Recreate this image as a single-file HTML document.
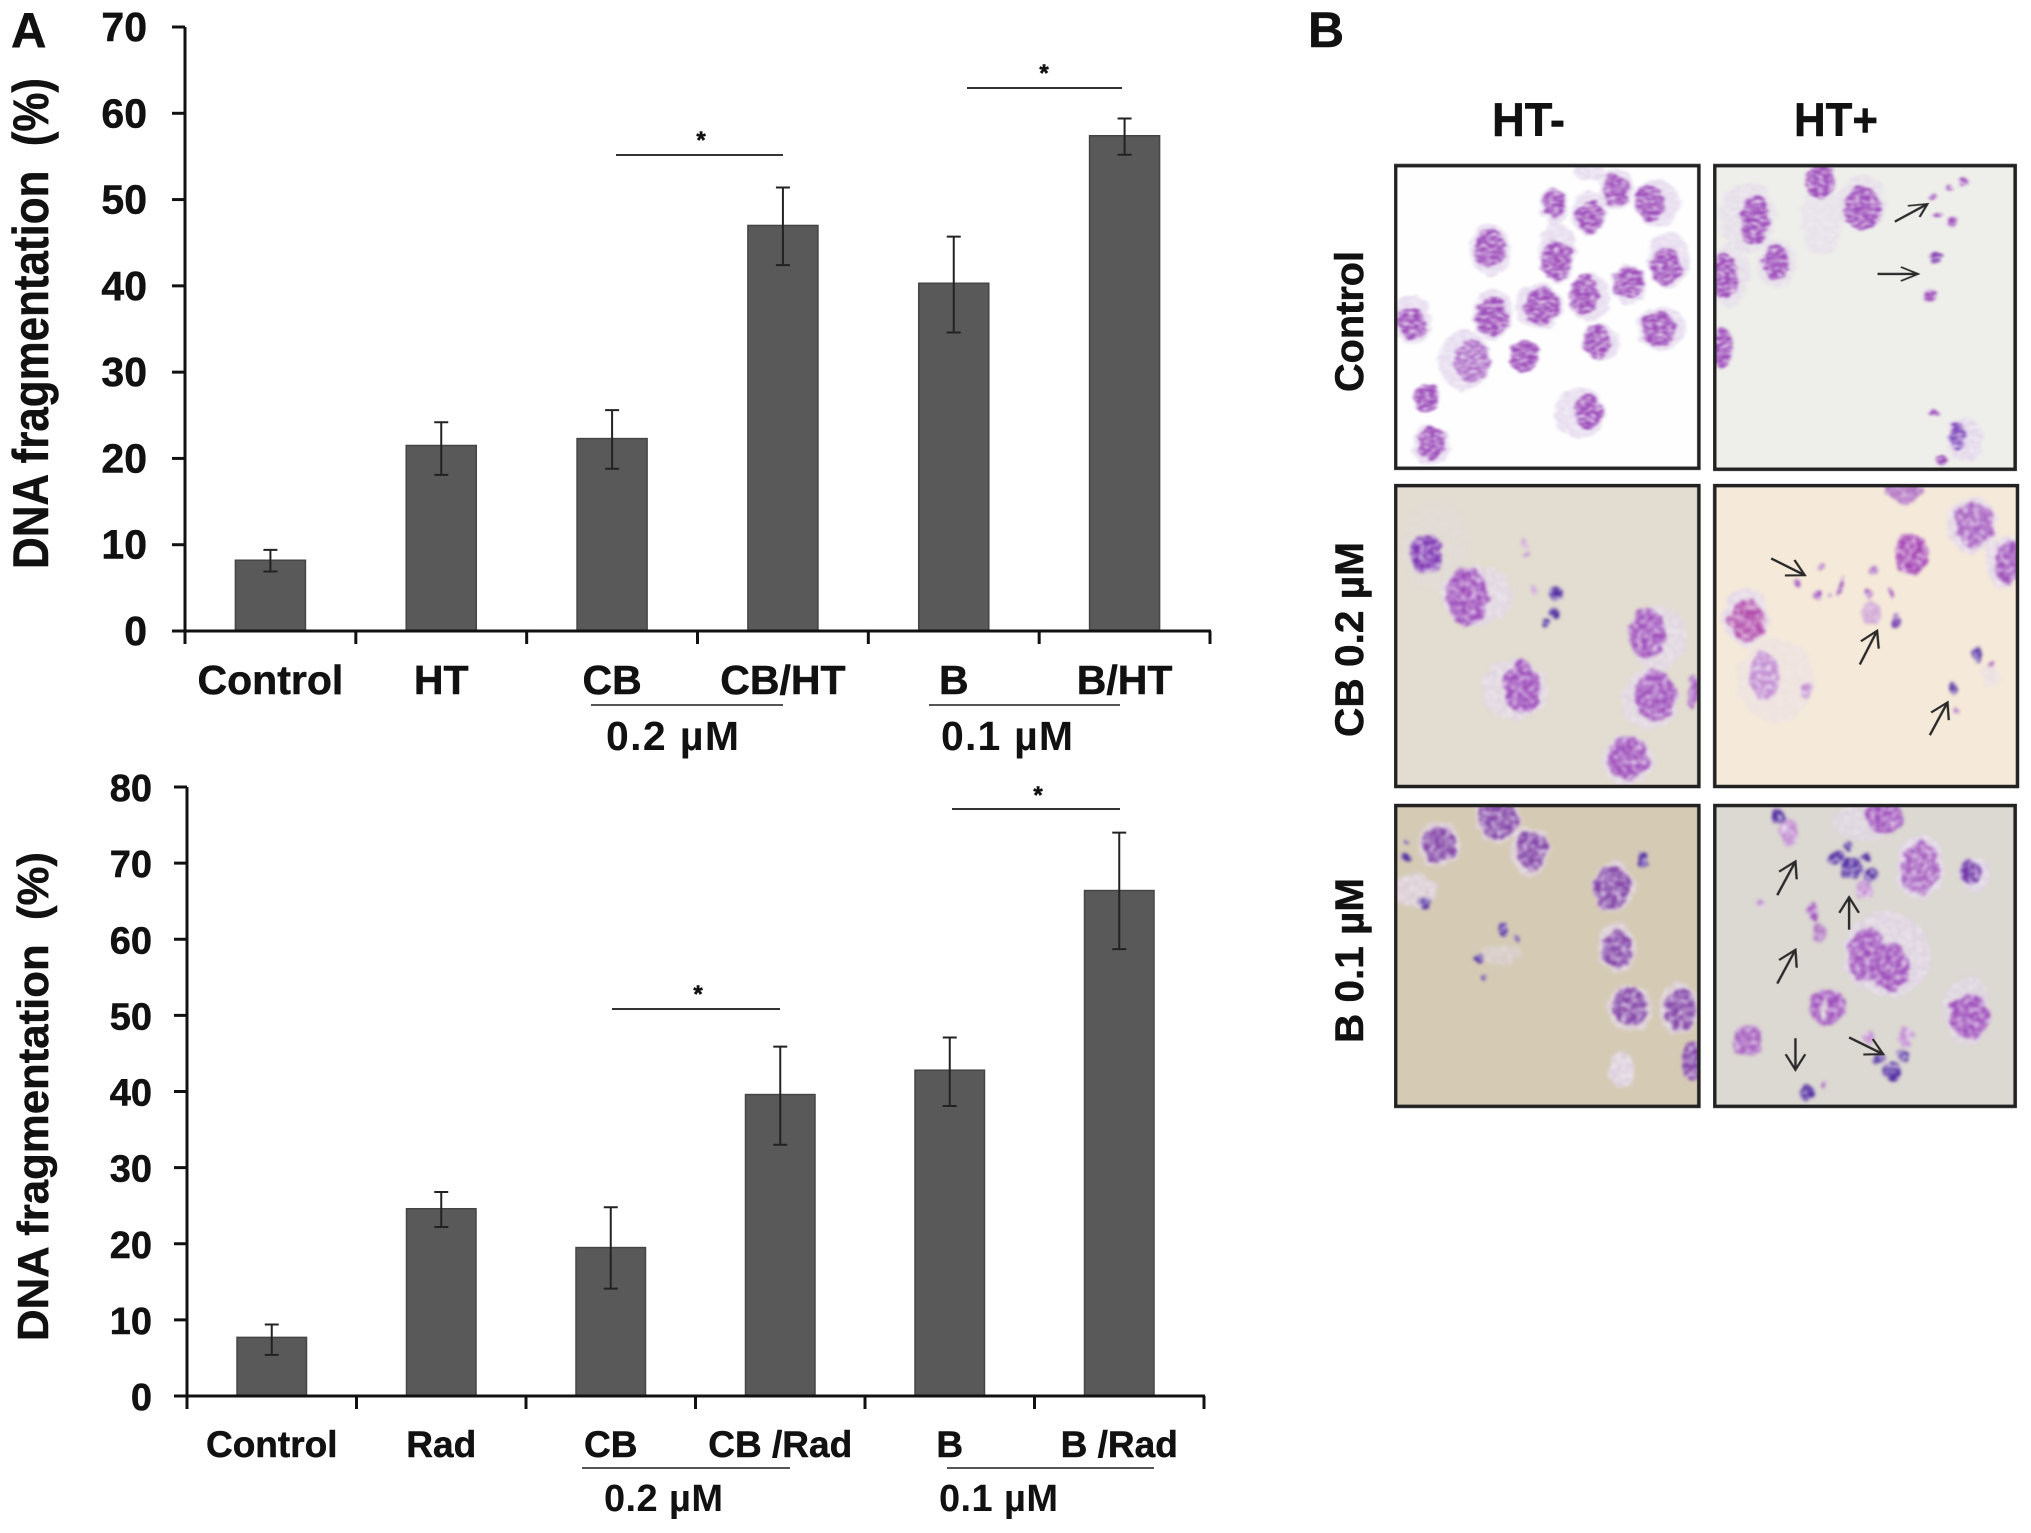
<!DOCTYPE html>
<html>
<head>
<meta charset="utf-8">
<title>DNA fragmentation figure</title>
<style>
html,body{margin:0;padding:0;background:#fff;}
svg{display:block;font-family:"Liberation Sans",sans-serif;}
text{font-weight:bold;fill:#111;stroke:#111;stroke-width:.5;}
.c{fill:#ddcfe8;opacity:.75}
.n{fill:#9a48b8}
.d{fill:#4b259c}
.p{fill:#c08ad0}
.v{fill:#7f3fa4}
.brd{fill:none;stroke:#222;stroke-width:3.5;vector-effect:non-scaling-stroke}
.arr{fill:none;stroke:#2a2a2a;stroke-width:2.4;vector-effect:non-scaling-stroke;marker-end:url(#ah)}
.sig{stroke:#333;stroke-width:2}
.und{stroke:#555;stroke-width:2}
</style>
</head>
<body>
<svg id="fig" xmlns="http://www.w3.org/2000/svg" width="2031" height="1533" viewBox="0 0 2031 1533">
<defs>
<filter id="b1" x="-5%" y="-5%" width="110%" height="110%" color-interpolation-filters="sRGB">
<feTurbulence type="fractalNoise" baseFrequency=".035" numOctaves="2" seed="3" result="t"/>
<feDisplacementMap in="SourceGraphic" in2="t" scale="22" xChannelSelector="R" yChannelSelector="G" result="dm"/>
<feTurbulence type="fractalNoise" baseFrequency=".09" numOctaves="2" seed="8" result="t2"/>
<feColorMatrix in="t2" type="matrix" values="0 0 0 0 1  0 0 0 0 1  0 0 0 0 1  1.8 0 0 0 -.65" result="sp"/>
<feComposite in="sp" in2="dm" operator="in" result="spc"/>
<feMerge result="mm"><feMergeNode in="dm"/><feMergeNode in="spc"/></feMerge>
<feGaussianBlur in="mm" stdDeviation="3.5"/>
</filter>
<marker id="ah" markerUnits="userSpaceOnUse" markerWidth="50" markerHeight="50" viewBox="0 0 50 50" refX="45" refY="25" orient="auto"><path d="M8 4 L45 25 L8 46" fill="none" stroke="#2a2a2a" stroke-width="5"/></marker>
<clipPath id="cp1"><rect x="205" y="497" width="650" height="908"/></clipPath>
<clipPath id="cp2"><rect x="889" y="497" width="644" height="911"/></clipPath>
<clipPath id="cp3"><rect x="205" y="37" width="650" height="715"/></clipPath>
<clipPath id="cp4"><rect x="889" y="37" width="649" height="715"/></clipPath>
<clipPath id="cp5"><rect x="205" y="797" width="650" height="715"/></clipPath>
<clipPath id="cp6"><rect x="889" y="797" width="644" height="715"/></clipPath>
</defs>

<text x="11" y="47" font-size="49">A</text>
<text x="1308" y="47" font-size="50">B</text>

<g id="chart-top"></g>
<g id="chart-bottom"></g>

<text transform="translate(48,569) rotate(-90)" font-size="50" textLength="491" lengthAdjust="spacingAndGlyphs" style="white-space:pre">DNA fragmentation  (%)</text>
<text transform="translate(48,1341) rotate(-90)" font-size="44" textLength="489" lengthAdjust="spacingAndGlyphs" style="white-space:pre">DNA fragmentation  (%)</text>

<line class="sig" x1="616" y1="155" x2="783" y2="155"/>
<text x="701" y="148" font-size="24" text-anchor="middle">*</text>
<line class="sig" x1="967" y1="88" x2="1122" y2="88"/>
<text x="1044" y="81" font-size="24" text-anchor="middle">*</text>
<line class="und" x1="591" y1="705" x2="783" y2="705"/>
<line class="und" x1="929" y1="705" x2="1120" y2="705"/>
<text x="606" y="750" font-size="41" textLength="133" lengthAdjust="spacing" style="stroke-width:0;font-weight:bold">0.2 µM</text>
<text x="941" y="750" font-size="41" textLength="132" lengthAdjust="spacing" style="stroke-width:0;font-weight:bold">0.1 µM</text>

<line class="sig" x1="612" y1="1009" x2="780" y2="1009"/>
<text x="698" y="1002" font-size="24" text-anchor="middle">*</text>
<line class="sig" x1="952" y1="809" x2="1120" y2="809"/>
<text x="1038" y="803" font-size="24" text-anchor="middle">*</text>
<line class="und" x1="582" y1="1468" x2="790" y2="1468"/>
<line class="und" x1="947" y1="1468" x2="1154" y2="1468"/>
<text x="604" y="1511" font-size="38" textLength="119" lengthAdjust="spacing" style="stroke-width:0;font-weight:bold">0.2 µM</text>
<text x="939" y="1511" font-size="38" textLength="119" lengthAdjust="spacing" style="stroke-width:0;font-weight:bold">0.1 µM</text>

<text x="1492" y="136" font-size="47" textLength="73" lengthAdjust="spacingAndGlyphs">HT-</text>
<text x="1794" y="136" font-size="47" textLength="84" lengthAdjust="spacingAndGlyphs">HT+</text>
<text transform="translate(1363,392) rotate(-90)" font-size="40" textLength="141" lengthAdjust="spacingAndGlyphs">Control</text>
<text transform="translate(1363,737) rotate(-90)" font-size="40" textLength="195" lengthAdjust="spacingAndGlyphs">CB 0.2 µM</text>
<text transform="translate(1363,1043) rotate(-90)" font-size="40" textLength="165" lengthAdjust="spacingAndGlyphs">B 0.1 µM</text>

<g transform="translate(1300,0) scale(.4665,.3333)">
<g>
<rect x="205" y="497" width="650" height="908" fill="#fefefe"/>
<g clip-path="url(#cp1)"><g filter="url(#b1)">
<ellipse class="c" cx="620" cy="515" rx="35" ry="25"/>
<ellipse class="c" cx="677" cy="568" rx="38" ry="60"/><ellipse class="n" cx="677" cy="568" rx="28" ry="46"/>
<ellipse class="c" cx="765" cy="610" rx="48" ry="72"/><ellipse class="n" cx="750" cy="610" rx="30" ry="56"/>
<ellipse class="c" cx="545" cy="617" rx="30" ry="55"/><ellipse class="n" cx="545" cy="612" rx="23" ry="44"/>
<ellipse class="c" cx="620" cy="640" rx="36" ry="65"/><ellipse class="n" cx="622" cy="650" rx="28" ry="50"/>
<ellipse class="c" cx="407" cy="750" rx="42" ry="78"/><ellipse class="n" cx="407" cy="745" rx="32" ry="58"/>
<ellipse class="c" cx="552" cy="760" rx="40" ry="90"/><ellipse class="n" cx="550" cy="780" rx="35" ry="62"/>
<ellipse class="c" cx="790" cy="780" rx="44" ry="85"/><ellipse class="n" cx="785" cy="800" rx="32" ry="55"/>
<ellipse class="c" cx="620" cy="890" rx="44" ry="72"/><ellipse class="n" cx="610" cy="885" rx="30" ry="62"/>
<ellipse class="c" cx="705" cy="855" rx="36" ry="60"/><ellipse class="n" cx="705" cy="850" rx="31" ry="48"/>
<ellipse class="c" cx="512" cy="920" rx="50" ry="70"/><ellipse class="n" cx="518" cy="920" rx="36" ry="58"/>
<ellipse class="c" cx="413" cy="940" rx="42" ry="78"/><ellipse class="n" cx="413" cy="950" rx="36" ry="58"/>
<ellipse class="c" cx="240" cy="960" rx="40" ry="75"/><ellipse class="n" cx="240" cy="970" rx="30" ry="48"/>
<ellipse class="c" cx="645" cy="1025" rx="40" ry="55"/><ellipse class="n" cx="637" cy="1025" rx="27" ry="50"/>
<ellipse class="c" cx="775" cy="985" rx="52" ry="65"/><ellipse class="n" cx="768" cy="985" rx="36" ry="55"/>
<ellipse class="n" cx="480" cy="1068" rx="30" ry="50"/>
<ellipse class="c" cx="352" cy="1080" rx="55" ry="92"/><ellipse class="n" cx="368" cy="1085" rx="38" ry="62" style="opacity:.75"/>
<ellipse class="n" cx="270" cy="1195" rx="28" ry="42"/>
<ellipse class="c" cx="600" cy="1238" rx="52" ry="78"/><ellipse class="n" cx="618" cy="1235" rx="28" ry="52"/>
<ellipse class="c" cx="280" cy="1335" rx="42" ry="62"/><ellipse class="n" cx="282" cy="1328" rx="30" ry="52"/>
</g></g>
<rect class="brd" x="205" y="497" width="650" height="908"/>
</g>
<g>
<rect x="889" y="497" width="644" height="911" fill="#eeeeea"/>
<g clip-path="url(#cp2)"><g filter="url(#b1)">
<ellipse class="c" cx="1120" cy="660" rx="45" ry="105" style="opacity:.4"/>
<ellipse class="c" cx="960" cy="650" rx="60" ry="105" style="opacity:.5"/><ellipse class="n" cx="975" cy="660" rx="30" ry="75"/>
<ellipse class="n" cx="1115" cy="545" rx="32" ry="52"/>
<ellipse class="c" cx="1205" cy="610" rx="48" ry="85" style="opacity:.5"/><ellipse class="n" cx="1205" cy="625" rx="38" ry="68"/>
<ellipse class="c" cx="1022" cy="790" rx="40" ry="72" style="opacity:.5"/><ellipse class="n" cx="1020" cy="785" rx="28" ry="55"/>
<ellipse class="c" cx="920" cy="825" rx="42" ry="95" style="opacity:.5"/><ellipse class="n" cx="908" cy="825" rx="32" ry="68"/>
<ellipse class="n" cx="902" cy="1045" rx="24" ry="60"/>
<ellipse class="c" cx="1425" cy="1320" rx="38" ry="68"/><ellipse class="n" cx="1408" cy="1310" rx="18" ry="38" style="fill:#7a42b8"/>
<ellipse class="n" cx="1423" cy="543" rx="8" ry="11"/><ellipse class="n" cx="1390" cy="565" rx="10" ry="9"/>
<ellipse class="n" cx="1357" cy="590" rx="5" ry="12"/><ellipse class="n" cx="1367" cy="645" rx="7" ry="10"/>
<ellipse class="n" cx="1400" cy="665" rx="9" ry="16"/><ellipse class="n" cx="1362" cy="772" rx="13" ry="17" style="fill:#7a35ac"/>
<ellipse class="n" cx="1348" cy="890" rx="13" ry="18"/><ellipse class="n" cx="1360" cy="1240" rx="6" ry="9"/>
<ellipse class="n" cx="1375" cy="1380" rx="10" ry="16"/>
</g></g>
<path class="arr" d="M1275 665 L1345 612"/>
<path class="arr" d="M1238 822 L1325 822"/>
<rect class="brd" x="889" y="497" width="644" height="911"/>
</g>
</g>

<g transform="translate(1300,470) scale(.4665,.4209)">
<g>
<rect x="205" y="37" width="650" height="715" fill="#e2ddd0"/>
<g clip-path="url(#cp3)"><g filter="url(#b1)">
<ellipse class="c" cx="290" cy="180" rx="75" ry="110" style="opacity:.15"/>
<ellipse class="n" cx="272" cy="200" rx="34" ry="48" style="fill:#7a30b0"/>
<ellipse class="c" cx="380" cy="300" rx="78" ry="72" style="opacity:.6"/><ellipse class="n" cx="358" cy="300" rx="45" ry="68"/>
<ellipse class="c" cx="770" cy="400" rx="60" ry="75" style="opacity:.6"/><ellipse class="n" cx="745" cy="390" rx="40" ry="60"/>
<ellipse class="c" cx="460" cy="520" rx="72" ry="72" style="opacity:.6"/><ellipse class="n" cx="477" cy="515" rx="38" ry="62"/>
<ellipse class="c" cx="750" cy="545" rx="62" ry="75" style="opacity:.6"/><ellipse class="n" cx="762" cy="535" rx="45" ry="58"/>
<ellipse class="c" cx="703" cy="690" rx="55" ry="62" style="opacity:.6"/><ellipse class="n" cx="703" cy="685" rx="44" ry="52"/>
<ellipse class="n" cx="845" cy="525" rx="13" ry="40"/>
<ellipse class="d" cx="550" cy="292" rx="15" ry="18"/><ellipse class="d" cx="543" cy="340" rx="9" ry="10"/>
<ellipse class="d" cx="527" cy="365" rx="9" ry="10"/><ellipse class="p" cx="480" cy="175" rx="6" ry="9"/>
<ellipse class="p" cx="487" cy="200" rx="5" ry="8"/><ellipse class="p" cx="503" cy="287" rx="7" ry="11"/>
</g></g>
<rect class="brd" x="205" y="37" width="650" height="715"/>
</g>
<g>
<rect x="889" y="37" width="649" height="715" fill="#f5ead9"/>
<g clip-path="url(#cp4)"><g filter="url(#b1)">
<ellipse class="n" cx="1295" cy="50" rx="40" ry="28" style="opacity:.75"/>
<ellipse class="c" cx="1440" cy="130" rx="52" ry="68"/><ellipse class="n" cx="1445" cy="130" rx="42" ry="52" style="opacity:.85"/>
<ellipse class="n" cx="1310" cy="200" rx="36" ry="50" style="fill:#a03cb0"/>
<ellipse class="c" cx="1510" cy="220" rx="42" ry="62"/><ellipse class="n" cx="1518" cy="222" rx="28" ry="52"/>
<ellipse class="c" cx="955" cy="350" rx="48" ry="70"/><ellipse class="n" cx="958" cy="358" rx="40" ry="48" style="fill:#ae45a8"/>
<ellipse class="c" cx="1020" cy="500" rx="85" ry="100" style="opacity:.3"/><ellipse class="p" cx="995" cy="490" rx="32" ry="58"/>
<ellipse class="p" cx="1085" cy="525" rx="13" ry="20"/>
<ellipse class="p" cx="1225" cy="340" rx="22" ry="28" style="opacity:.7"/>
<ellipse class="n" cx="1275" cy="358" rx="12" ry="17" style="fill:#6f35ac"/>
<ellipse class="d" cx="1452" cy="440" rx="12" ry="20"/><ellipse class="d" cx="1398" cy="518" rx="10" ry="12"/>
<ellipse class="n" cx="1410" cy="570" rx="7" ry="9"/><ellipse class="n" cx="1118" cy="232" rx="6" ry="8"/>
<ellipse class="n" cx="1232" cy="238" rx="8" ry="10"/><ellipse class="n" cx="1113" cy="298" rx="8" ry="12"/>
<ellipse class="n" cx="1160" cy="275" rx="5" ry="22"/><ellipse class="n" cx="1220" cy="295" rx="5" ry="10"/>
<ellipse class="n" cx="1265" cy="295" rx="5" ry="12"/><ellipse class="n" cx="1065" cy="268" rx="6" ry="8"/>
<ellipse class="n" cx="1140" cy="298" rx="4" ry="6"/><ellipse class="n" cx="1483" cy="462" rx="6" ry="8"/>
<ellipse class="c" cx="1480" cy="490" rx="20" ry="22" style="opacity:.4"/>
</g></g>
<path class="arr" d="M1010 210 L1082 250"/>
<path class="arr" d="M1200 462 L1237 382"/>
<path class="arr" d="M1350 630 L1388 552"/>
<rect class="brd" x="889" y="37" width="649" height="715"/>
</g>
<g>
<rect x="205" y="797" width="650" height="715" fill="#d5cbb5"/>
<g clip-path="url(#cp5)"><g filter="url(#b1)">
<ellipse class="c" cx="298" cy="890" rx="46" ry="52" style="opacity:.6"/><ellipse class="v" cx="298" cy="890" rx="38" ry="42"/>
<ellipse class="c" cx="425" cy="830" rx="50" ry="56" style="opacity:.6"/><ellipse class="v" cx="425" cy="828" rx="44" ry="48"/>
<ellipse class="c" cx="493" cy="905" rx="42" ry="56" style="opacity:.6"/><ellipse class="v" cx="497" cy="902" rx="32" ry="46"/>
<ellipse class="c" cx="672" cy="990" rx="46" ry="60" style="opacity:.6"/><ellipse class="v" cx="668" cy="992" rx="40" ry="52"/>
<ellipse class="c" cx="680" cy="1135" rx="40" ry="62" style="opacity:.6"/><ellipse class="v" cx="680" cy="1140" rx="32" ry="45"/>
<ellipse class="c" cx="708" cy="1278" rx="48" ry="55" style="opacity:.6"/><ellipse class="v" cx="708" cy="1275" rx="36" ry="46"/>
<ellipse class="c" cx="812" cy="1280" rx="42" ry="60" style="opacity:.6"/><ellipse class="v" cx="815" cy="1282" rx="33" ry="50"/>
<ellipse class="v" cx="842" cy="1405" rx="24" ry="45"/>
<ellipse class="c" cx="688" cy="1425" rx="28" ry="42"/>
<ellipse class="c" cx="245" cy="1000" rx="50" ry="40" style="opacity:.6"/>
<ellipse class="d" cx="435" cy="1093" rx="13" ry="18"/><ellipse class="d" cx="385" cy="1162" rx="10" ry="10"/>
<ellipse class="d" cx="395" cy="1205" rx="6" ry="8"/><ellipse class="d" cx="465" cy="1112" rx="5" ry="7"/>
<ellipse class="d" cx="735" cy="925" rx="13" ry="20"/><ellipse class="d" cx="268" cy="1025" rx="13" ry="13"/>
<ellipse class="d" cx="228" cy="920" rx="8" ry="8"/><ellipse class="d" cx="228" cy="885" rx="5" ry="5"/>
<ellipse class="c" cx="430" cy="1150" rx="45" ry="25" style="opacity:.35"/>
</g></g>
<rect class="brd" x="205" y="797" width="650" height="715"/>
</g>
<g>
<rect x="889" y="797" width="644" height="715" fill="#dcd8d2"/>
<g clip-path="url(#cp6)"><g filter="url(#b1)">
<ellipse class="c" cx="1210" cy="835" rx="70" ry="45" style="opacity:.5"/><ellipse class="n" cx="1252" cy="825" rx="42" ry="38"/>
<ellipse class="c" cx="1330" cy="945" rx="52" ry="72"/><ellipse class="n" cx="1330" cy="945" rx="42" ry="60" style="opacity:.85"/>
<ellipse class="c" cx="1448" cy="962" rx="34" ry="40"/><ellipse class="d" cx="1440" cy="955" rx="22" ry="26" style="fill:#6b2fa4"/>
<ellipse class="c" cx="1258" cy="1150" rx="95" ry="100" style="opacity:.6"/><ellipse class="n" cx="1215" cy="1150" rx="40" ry="65"/><ellipse class="n" cx="1265" cy="1180" rx="42" ry="55"/>
<ellipse class="c" cx="1430" cy="1285" rx="50" ry="82" style="opacity:.5"/><ellipse class="n" cx="1435" cy="1298" rx="44" ry="52"/>
<ellipse class="n" cx="958" cy="1355" rx="32" ry="38" style="opacity:.85"/>
<ellipse class="n" cx="1130" cy="1275" rx="38" ry="44"/><ellipse cx="1125" cy="1280" rx="6" ry="24" fill="#dcd8d2"/>
<ellipse class="d" cx="1025" cy="822" rx="14" ry="18"/><ellipse class="p" cx="1048" cy="860" rx="22" ry="30"/>
<ellipse class="d" cx="1182" cy="945" rx="24" ry="26"/><ellipse class="d" cx="1150" cy="922" rx="14" ry="15"/>
<ellipse class="d" cx="1175" cy="895" rx="11" ry="11"/><ellipse class="d" cx="1222" cy="962" rx="14" ry="16"/>
<ellipse class="d" cx="1212" cy="920" rx="9" ry="9"/><ellipse class="p" cx="1210" cy="995" rx="18" ry="20"/>
<ellipse class="n" cx="1102" cy="1050" rx="11" ry="22"/><ellipse class="n" cx="1112" cy="1100" rx="16" ry="24" style="opacity:.7"/>
<ellipse class="d" cx="1270" cy="1430" rx="19" ry="21"/><ellipse class="d" cx="1242" cy="1398" rx="13" ry="13"/>
<ellipse class="d" cx="1295" cy="1392" rx="12" ry="13"/><ellipse class="p" cx="1300" cy="1345" rx="15" ry="25"/>
<ellipse class="p" cx="1220" cy="1345" rx="10" ry="15"/><ellipse class="d" cx="1085" cy="1480" rx="16" ry="19"/>
<ellipse class="n" cx="1125" cy="1465" rx="5" ry="10"/><ellipse class="p" cx="985" cy="1030" rx="10" ry="11"/>
</g></g>
<path class="arr" d="M1023 1010 L1062 930"/>
<path class="arr" d="M1177 1092 L1177 1015"/>
<path class="arr" d="M1023 1220 L1062 1140"/>
<path class="arr" d="M1062 1350 L1062 1425"/>
<path class="arr" d="M1177 1348 L1250 1388"/>
<rect class="brd" x="889" y="797" width="644" height="715"/>
</g>
</g>
</svg>
<script>
const topCategories = ['Control', 'HT', 'CB', 'CB/HT', 'B', 'B/HT'];
const topValues = [8.2, 21.5, 22.3, 47.0, 40.3, 57.4];
const topErrHigh = [9.4, 24.2, 25.6, 51.4, 45.7, 59.4];
const topErrLow = [6.9, 18.1, 18.8, 42.4, 34.6, 55.2];
const topTicks = [0, 10, 20, 30, 40, 50, 60, 70];

const bottomCategories = ['Control', 'Rad', 'CB', 'CB /Rad', 'B', 'B /Rad'];
const bottomValues = [7.7, 24.6, 19.5, 39.6, 42.8, 66.4];
const bottomErrHigh = [9.4, 26.8, 24.8, 45.9, 47.1, 74.0];
const bottomErrLow = [5.4, 22.2, 14.1, 33.0, 38.1, 58.7];
const bottomTicks = [0, 10, 20, 30, 40, 50, 60, 70, 80];

const NS = 'http://www.w3.org/2000/svg';
function mk(parent, tag, attrs, txt) {
  const el = document.createElementNS(NS, tag);
  for (const k in attrs) el.setAttribute(k, attrs[k]);
  if (txt !== undefined) el.textContent = txt;
  parent.appendChild(el);
  return el;
}
function drawChart(g, cats, vals, hi, lo, ticks, f) {
  const maxV = ticks[ticks.length - 1];
  const y = v => f.y0 - (v / maxV) * (f.y0 - f.yTop);
  const step = (f.xEnd - f.x0) / cats.length;
  const xc = i => f.x0 + (i + 0.5) * step;
  const barW = step * 0.41;

  cats.forEach((c, i) => {
    const bar = mk(g, 'rect', {x: xc(i) - barW / 2, y: y(vals[i]), width: barW, height: f.y0 - y(vals[i]), fill: '#595959', stroke: '#454545', 'stroke-width': 1.5});
    
    
  });
  cats.forEach((c, i) => {
    const xm = xc(i);
    const d = 'M' + xm + ' ' + y(hi[i]) + 'V' + y(lo[i]) +
      'M' + (xm - 7) + ' ' + y(hi[i]) + 'h14M' + (xm - 7) + ' ' + y(lo[i]) + 'h14';
    const err = mk(g, 'path', {d: d, fill: 'none', stroke: '#222', 'stroke-width': 2});
    
    
  });

  const yAxis = mk(g, 'line', {x1: f.x0, y1: f.yTop, x2: f.x0, y2: f.y0 + 13, stroke: '#111', 'stroke-width': 3});
  
  
  const xAxis = mk(g, 'line', {x1: f.x0 - 13, y1: f.y0, x2: f.xEnd + 1, y2: f.y0, stroke: '#111', 'stroke-width': 3});
  
  

  ticks.forEach(t => {
    const tick = mk(g, 'line', {x1: f.x0 - 13, y1: y(t), x2: f.x0, y2: y(t), stroke: '#111', 'stroke-width': 3});
    
    
    const lab = mk(g, 'text', {x: f.tickRight, y: y(t) + 14, 'font-size': f.tickFont, 'text-anchor': 'end'}, String(t));
    
    
  });
  for (let i = 0; i <= cats.length; i++) {
    const tick = mk(g, 'line', {x1: f.x0 + i * step, y1: f.y0, x2: f.x0 + i * step, y2: f.y0 + 13, stroke: '#111', 'stroke-width': 3});
    
    
  }
  cats.forEach((c, i) => {
    const lab = mk(g, 'text', {x: xc(i), y: f.labelY, 'font-size': f.labelFont, 'text-anchor': 'middle'}, c);
    
    
  });
}
drawChart(document.getElementById('chart-top'), topCategories, topValues, topErrHigh, topErrLow, topTicks,
  {x0: 185, xEnd: 1210, y0: 631, yTop: 27, tickRight: 147, tickFont: 41, labelY: 694, labelFont: 41});
drawChart(document.getElementById('chart-bottom'), bottomCategories, bottomValues, bottomErrHigh, bottomErrLow, bottomTicks,
  {x0: 187, xEnd: 1204, y0: 1396, yTop: 787, tickRight: 152, tickFont: 38, labelY: 1457, labelFont: 37});
</script>
</body>
</html>
